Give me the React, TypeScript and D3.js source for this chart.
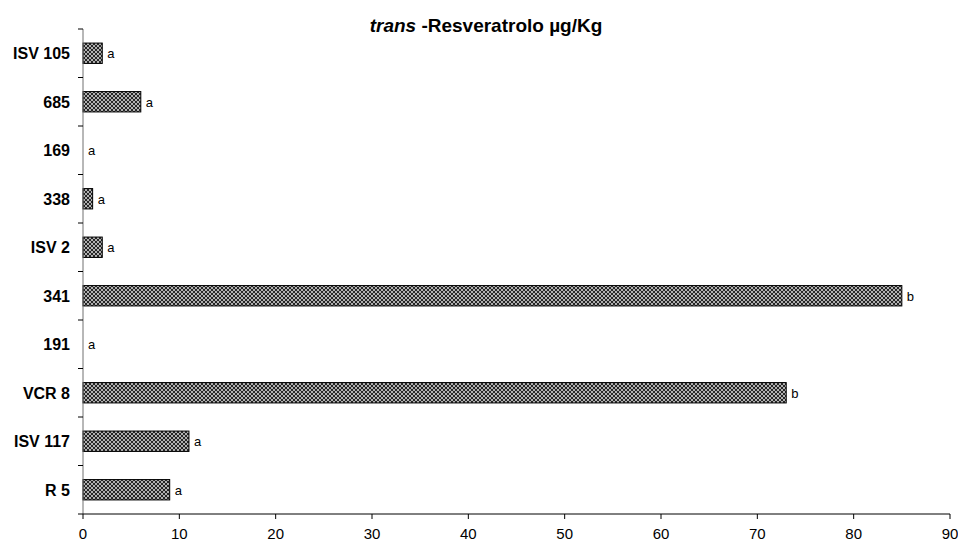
import React, { useEffect, useRef } from "react";
import * as d3 from "d3";

const categories = ["ISV 105", "685", "169", "338", "ISV 2", "341", "191", "VCR 8", "ISV 117", "R 5"];
const values = [2, 6, 0, 1, 2, 85, 0, 73, 11, 9];
const letters = ["a", "a", "a", "a", "a", "b", "a", "b", "a", "a"];
const xTicks = [0, 10, 20, 30, 40, 50, 60, 70, 80, 90];

const W = 958;
const H = 540;
const margin = { top: 29, right: 8, bottom: 26, left: 83 };

function BarChart() {
  const ref = useRef<SVGSVGElement>(null);

  useEffect(() => {
    const svg = d3.select(ref.current);
    svg.selectAll("*").remove();
    svg.attr("width", W).attr("height", H).style("display", "block").style("font-family", "Arial, 'Liberation Sans', sans-serif");

    const defs = svg.append("defs");
    const pat = defs
      .append("pattern")
      .attr("id", "hatch")
      .attr("patternUnits", "userSpaceOnUse")
      .attr("width", 4)
      .attr("height", 4);
    pat.append("rect").attr("width", 4).attr("height", 4).attr("fill", "#262626");
    pat.append("path").attr("d", "M0,0 L4,4 M4,0 L0,4").attr("stroke", "#c0c0c0").attr("stroke-width", 0.9);

    const x = d3.scaleLinear().domain([0, 90]).range([margin.left, W - margin.right]);
    const y = d3
      .scaleBand<string>()
      .domain(categories)
      .range([margin.top, H - margin.bottom])
      .paddingInner(0.58)
      .paddingOuter(0.29);
    const step = y.step();
    const y0 = margin.top;
    const y1 = H - margin.bottom;

    // title
    const title = svg
      .append("text")
      .attr("x", 486)
      .attr("y", 32)
      .attr("text-anchor", "middle")
      .attr("font-size", "19px")
      .attr("font-weight", "700");
    title.append("tspan").attr("font-style", "italic").text("trans");
    title.append("tspan").text(" -Resveratrolo µg/Kg");

    // bars
    const data = categories.map((c, i) => ({ c, v: values[i], l: letters[i] }));
    svg
      .append("g")
      .selectAll("rect")
      .data(data.filter((d) => d.v > 0))
      .enter()
      .append("rect")
      .attr("x", x(0))
      .attr("y", (d) => y(d.c)!)
      .attr("width", (d) => x(d.v) - x(0))
      .attr("height", y.bandwidth())
      .attr("fill", "url(#hatch)")
      .attr("stroke", "#000")
      .attr("stroke-width", 1);

    svg
      .append("g")
      .selectAll("text")
      .data(data)
      .enter()
      .append("text")
      .attr("x", (d) => x(d.v) + 5)
      .attr("y", (d) => y(d.c)! + y.bandwidth() / 2 + 5)
      .attr("font-size", "13px")
      .text((d) => d.l);

    // y axis
    const ya = svg.append("g");
    ya.append("line")
      .attr("x1", x(0))
      .attr("x2", x(0))
      .attr("y1", y0)
      .attr("y2", y1)
      .attr("stroke", "#707070");
    ya.selectAll("line.tick")
      .data(d3.range(0, categories.length + 1))
      .enter()
      .append("line")
      .attr("class", "tick")
      .attr("x1", x(0) - 5)
      .attr("x2", x(0))
      .attr("y1", (i) => y0 + i * step)
      .attr("y2", (i) => y0 + i * step)
      .attr("stroke", "#000");
    ya.selectAll("text")
      .data(categories)
      .enter()
      .append("text")
      .attr("x", 70)
      .attr("y", (d) => y(d)! + y.bandwidth() / 2 + 6)
      .attr("text-anchor", "end")
      .attr("font-size", "16px")
      .attr("font-weight", "700")
      .text((d) => d);

    // x axis
    const xa = svg.append("g");
    xa.append("line")
      .attr("x1", x(0))
      .attr("x2", x(90))
      .attr("y1", y1)
      .attr("y2", y1)
      .attr("stroke", "#000");
    xa.selectAll("line.tick")
      .data(xTicks)
      .enter()
      .append("line")
      .attr("class", "tick")
      .attr("x1", (d) => x(d))
      .attr("x2", (d) => x(d))
      .attr("y1", y1)
      .attr("y2", y1 + 5)
      .attr("stroke", "#000");
    xa.selectAll("text")
      .data(xTicks)
      .enter()
      .append("text")
      .attr("x", (d) => x(d))
      .attr("y", y1 + 25)
      .attr("text-anchor", "middle")
      .attr("font-size", "15px")
      .text((d) => d);
  }, []);

  return <svg ref={ref} />;
}

export default function App() {
  return (
    <div style={{ position: "absolute", left: 0, top: 0 }}>
      <BarChart />
    </div>
  );
}
